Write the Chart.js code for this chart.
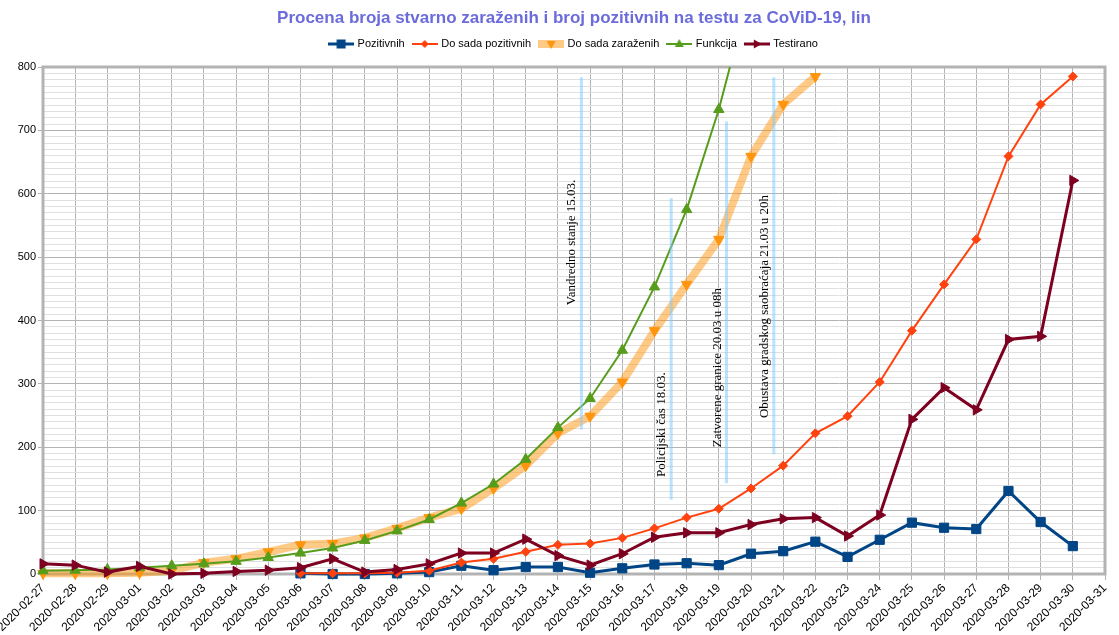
<!DOCTYPE html>
<html><head><meta charset="utf-8">
<script src="https://cdn.jsdelivr.net/npm/chart.js@4/dist/chart.umd.min.js"></script>
<style>html,body{margin:0;padding:0;background:#fff;}#wrap{width:1119px;height:635px;}</style>
</head><body><div id="wrap"><canvas id="c" width="1119" height="635"></canvas></div>
<script>
const titleText = 'Procena broja stvarno zaraženih i broj pozitivnih na testu za CoViD-19, lin';
const categories = ['2020-02-27','2020-02-28','2020-02-29','2020-03-01','2020-03-02','2020-03-03','2020-03-04','2020-03-05','2020-03-06','2020-03-07','2020-03-08','2020-03-09','2020-03-10','2020-03-11','2020-03-12','2020-03-13','2020-03-14','2020-03-15','2020-03-16','2020-03-17','2020-03-18','2020-03-19','2020-03-20','2020-03-21','2020-03-22','2020-03-23','2020-03-24','2020-03-25','2020-03-26','2020-03-27','2020-03-28','2020-03-29','2020-03-30','2020-03-31'];
const seriesNames = ['Pozitivnih','Do sada pozitivnih','Do sada zaraženih','Funkcija','Testirano'];
const pozitivnih = [null,null,null,null,null,null,null,null,1,0,0,1,3,13,6,11,11,2,9,15,17,14,32,36,51,27,54,81,73,71,131,82,44,null];
const doSadaPozitivnih = [null,null,null,null,null,null,null,null,1,1,1,2,5,18,24,35,46,48,57,72,89,103,135,171,222,249,303,384,457,528,659,741,785,null];
const doSadaZarazenih = [1,1,1,2,5,18,24,35,46,48,57,72,89,103,135,171,222,249,303,384,457,528,659,741,785,null,null,null,null,null,null,null,null,null];
const funkcija = [5,6,7,10,13,16,20,26,33,41,53,68,86,112,142,181,231,277,353,453,575,733,927,null,null,null,null,null,null,null,null,null,null,null];
const testirano = [16,14,3,12,0,1,4,6,10,24,3,7,16,33,33,55,29,14,32,58,65,65,78,87,89,60,93,244,294,259,370,375,621,null];
const yTicksMajor = [0,100,200,300,400,500,600,700,800];
// annotations: position on the category axis (fractional index), value range, label, value where label starts
const annotX = [16.73, 19.52, 21.24, 22.71];
const annotFrom = [228, 117, 143, 189];
const annotTo = [784, 593, 714, 784];
const annotLabels = ['Vandredno stanje 15.03.', 'Policijski čas 18.03.', 'Zatvorene granice 20.03 u 08h', 'Obustava gradskog saobraćaja 21.03 u 20h'];
const annotTextFrom = [424, 153, 200, 246];

const COLORS = ['#004586', '#ff420e', '#ff950e', '#579d1c', '#7e0021'];
const BAND = 'rgba(255,149,14,0.5)';

Chart.defaults.font.family = "'Liberation Sans', Arial, sans-serif";

function makeIcon(i) {
  const cv = document.createElement('canvas');
  cv.width = 26; cv.height = 12;
  const g = cv.getContext('2d');
  const cy = 6;
  if (i === 2) {
    g.fillStyle = BAND; g.fillRect(0, cy - 4, 26, 8);
  } else {
    g.strokeStyle = COLORS[i]; g.lineWidth = (i === 0 || i === 4) ? 3 : 2;
    g.beginPath(); g.moveTo(0, cy); g.lineTo(26, cy); g.stroke();
  }
  g.fillStyle = COLORS[i];
  g.beginPath();
  const cx = 13;
  if (i === 0) { g.rect(cx - 4.5, cy - 4.5, 9, 9); }
  else if (i === 1) { g.moveTo(cx, cy - 4); g.lineTo(cx + 4, cy); g.lineTo(cx, cy + 4); g.lineTo(cx - 4, cy); g.closePath(); }
  else if (i === 2) { g.moveTo(cx - 4.5, cy - 3); g.lineTo(cx + 4.5, cy - 3); g.lineTo(cx, cy + 5); g.closePath(); }
  else if (i === 3) { g.moveTo(cx - 4.5, cy + 3); g.lineTo(cx + 4.5, cy + 3); g.lineTo(cx, cy - 5); g.closePath(); }
  else { g.moveTo(cx - 3, cy - 4.5); g.lineTo(cx - 3, cy + 4.5); g.lineTo(cx + 5, cy); g.closePath(); }
  g.fill();
  return cv;
}
const legendIcons = [0,1,2,3,4].map(makeIcon);

const bgPlugin = {
  id: 'bg',
  beforeDraw(chart) { const c = chart.ctx; c.save(); c.fillStyle = '#fff'; c.fillRect(0, 0, chart.width, chart.height); c.restore(); }
};
const framePlugin = {
  id: 'frame',
  beforeDatasetsDraw(chart) {
    const a = chart.chartArea, c = chart.ctx;
    c.save(); c.strokeStyle = '#b3b3b3'; c.lineWidth = 3;
    c.strokeRect(a.left, a.top, a.right - a.left, a.bottom - a.top);
    c.restore();
  }
};
const annotPlugin = {
  id: 'annot',
  afterDatasetsDraw(chart) {
    const xs = chart.scales.x, ys = chart.scales.y, c = chart.ctx;
    c.save();
    for (let i = 0; i < annotX.length; i++) {
      const px = xs.getPixelForValue(annotX[i]);
      c.strokeStyle = 'rgba(131,202,255,0.55)'; c.lineWidth = 3;
      c.beginPath(); c.moveTo(px, ys.getPixelForValue(annotFrom[i])); c.lineTo(px, ys.getPixelForValue(annotTo[i])); c.stroke();
      c.save();
      c.translate(px - 6, ys.getPixelForValue(annotTextFrom[i]));
      c.rotate(-Math.PI / 2);
      c.fillStyle = '#000'; c.font = "13px 'Liberation Serif', 'Times New Roman', serif";
      c.textAlign = 'left'; c.textBaseline = 'alphabetic';
      c.fillText(annotLabels[i], 0, 0);
      c.restore();
    }
    c.restore();
  }
};

const seriesData = [pozitivnih, doSadaPozitivnih, doSadaZarazenih, funkcija, testirano];
const styles = [
  {borderWidth: 3, pointStyle: 'rect', pointRadius: 6.5, pointRotation: 0},
  {borderWidth: 2, pointStyle: 'rectRot', pointRadius: 4.5, pointRotation: 0},
  {borderWidth: 8, pointStyle: 'triangle', pointRadius: 6, pointRotation: 180},
  {borderWidth: 2, pointStyle: 'triangle', pointRadius: 6, pointRotation: 0},
  {borderWidth: 3, pointStyle: 'triangle', pointRadius: 6, pointRotation: 90}
];
const datasets = seriesData.map((d, i) => ({
  label: seriesNames[i],
  data: d,
  borderColor: i === 2 ? BAND : COLORS[i],
  backgroundColor: COLORS[i],
  pointBackgroundColor: COLORS[i],
  pointBorderColor: COLORS[i],
  pointBorderWidth: 1,
  borderWidth: styles[i].borderWidth,
  pointStyle: styles[i].pointStyle,
  pointRadius: styles[i].pointRadius,
  pointRotation: styles[i].pointRotation,
  tension: 0,
  spanGaps: false,
  order: 5 - i,
  clip: i === 3 ? {left: 10, right: 10, top: 0, bottom: 10} : 10
}));

new Chart(document.getElementById('c'), {
  type: 'line',
  data: { labels: categories, datasets },
  options: {
    responsive: false, animation: false, devicePixelRatio: 1,
    layout: { padding: { left: 0, right: 14, top: 0, bottom: 0 } },
    plugins: {
      title: { display: true, text: titleText, color: '#6b6bdc', fullSize: false,
        font: { size: 17, weight: 'bold' }, padding: { top: 7.8, bottom: 1.3 } },
      subtitle: { display: true, text: '', fullSize: false, weight: 900, font: { size: 6.25 }, padding: 0 },
      legend: { fullSize: false,
        labels: { usePointStyle: true, pointStyleWidth: 22, padding: 9, color: '#000', font: { size: 11 },
          sort: (a, b) => a.datasetIndex - b.datasetIndex,
          generateLabels(chart) {
            const items = Chart.defaults.plugins.legend.labels.generateLabels(chart);
            items.forEach(it => { it.pointStyle = legendIcons[it.datasetIndex]; it.rotation = 0; });
            return items;
          } } },
      tooltip: { enabled: false }
    },
    scales: {
      x: {
        grid: { color: '#b3b3b3', tickColor: '#b3b3b3', tickLength: 6, lineWidth: 1 },
        border: { display: false },
        ticks: { autoSkip: false, maxRotation: 45, minRotation: 45, padding: 1, color: '#000', font: { size: 12 } },
        afterFit(s) { s.height = 61; s.paddingLeft = 0; s.paddingRight = 0; }
      },
      y: {
        min: 0, max: 800,
        grid: {
          color: c => (c.tick && c.tick.value % 100 === 0) ? '#b3b3b3' : '#e0e0e0',
          tickColor: c => (c.tick && c.tick.value % 100 === 0) ? '#b3b3b3' : 'rgba(0,0,0,0)',
          tickLength: 5
        },
        border: { display: false },
        ticks: { stepSize: 10, autoSkip: false, maxTicksLimit: 1000, padding: 2, color: '#000', font: { size: 11 },
          callback: v => yTicksMajor.includes(v) ? String(v) : '' },
        afterFit(s) { s.width = 43; s.paddingTop = 0; s.paddingBottom = 0; }
      }
    }
  },
  plugins: [bgPlugin, framePlugin, annotPlugin]
});
</script></body></html>
